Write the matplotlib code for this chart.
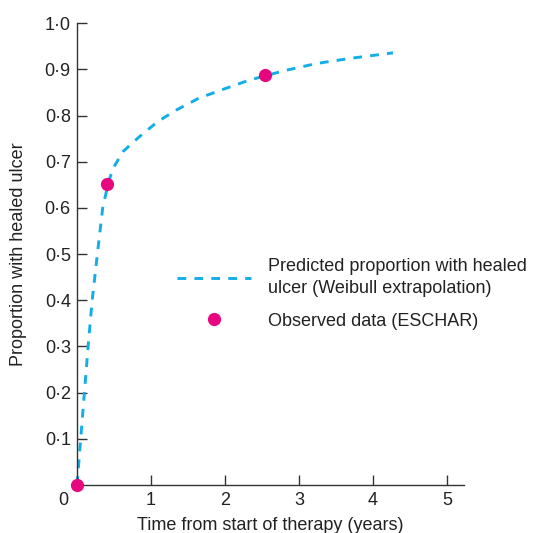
import matplotlib
matplotlib.use('Agg')
import matplotlib.pyplot as plt

plt.rcParams['font.family'] = ['Liberation Sans', 'DejaVu Sans']

# predicted curve (Weibull extrapolation)
pred_t = [0.0, 0.05, 0.10, 0.15, 0.205, 0.275, 0.347, 0.41, 0.45, 0.50, 0.62, 0.84,
          1.09, 1.34, 1.65, 2.01, 2.33, 2.54, 2.79, 3.24, 3.69, 4.27]
pred_p = [0.0, 0.10, 0.20, 0.30, 0.40, 0.50, 0.60, 0.645, 0.668, 0.689, 0.722, 0.754,
          0.787, 0.812, 0.838, 0.859, 0.877, 0.886, 0.897, 0.913, 0.924, 0.936]

# observed data (ESCHAR)
obs_t = [0.0, 0.41, 2.54]
obs_p = [0.0, 0.651, 0.889]

yticks = [0.1, 0.2, 0.3, 0.4, 0.5, 0.6, 0.7, 0.8, 0.9, 1.0]
ytick_labels = ['0·1', '0·2', '0·3', '0·4', '0·5', '0·6', '0·7', '0·8', '0·9', '1·0']
xticks = [1, 2, 3, 4, 5]

blue = '#12aee8'
pink = '#e6067f'
axcol = '#333333'
txtcol = '#222222'
fs = 13

W, H = 537, 533
fig = plt.figure(figsize=(W / 100, H / 100), dpi=100)
ax = fig.add_axes([77 / W, 1 - 485 / H, (464 - 77) / W, (485 - 23.3) / H])

ax.plot(pred_t, pred_p, color=blue, lw=2.1, dashes=(3, 2.8), clip_on=False,
        label='Predicted proportion with healed\nulcer (Weibull extrapolation)')
ax.plot(obs_t, obs_p, 'o', color=pink, ms=9.5, mec='none', clip_on=False, zorder=5,
        label='Observed data (ESCHAR)')

ax.set_xlim(0, 5.23)
ax.set_ylim(0, 1.0)
ax.set_xticks(xticks)
ax.set_xticklabels([str(t) for t in xticks])
ax.set_yticks(yticks)
ax.set_yticklabels(ytick_labels)
ax.tick_params(direction='in', length=7.5, width=1.0, color=axcol,
               labelsize=fs, labelcolor=txtcol)
ax.tick_params(axis='y', pad=4.5)
ax.tick_params(axis='x', pad=5)
ax.annotate('0', xy=(0, 0), xytext=(-9.5, -5), textcoords='offset points',
            ha='center', va='top', fontsize=fs, color=txtcol)

for s in ['top', 'right']:
    ax.spines[s].set_visible(False)
for s in ['left', 'bottom']:
    ax.spines[s].set_color(axcol)
    ax.spines[s].set_linewidth(1.0)

fig.text(19 / W, 1 - 254 / H, 'Proportion with healed ulcer', rotation=90,
         ha='center', va='center', fontsize=fs, color=txtcol)
fig.text(270.5 / W, 1 - 529.5 / H, 'Time from start of therapy (years)',
         ha='center', va='baseline', fontsize=fs, color=txtcol)

leg = ax.legend(loc='upper left', bbox_to_anchor=(176.7 / W, 1 - 258 / H),
                bbox_transform=fig.transFigure, frameon=False, fontsize=fs,
                handlelength=4.1, handletextpad=0.95, borderpad=0,
                borderaxespad=0, labelspacing=0.85, numpoints=1)
for t in leg.get_texts():
    t.set_color(txtcol)
    t.set_linespacing(1.4)

plt.savefig('out.png', dpi=100)
